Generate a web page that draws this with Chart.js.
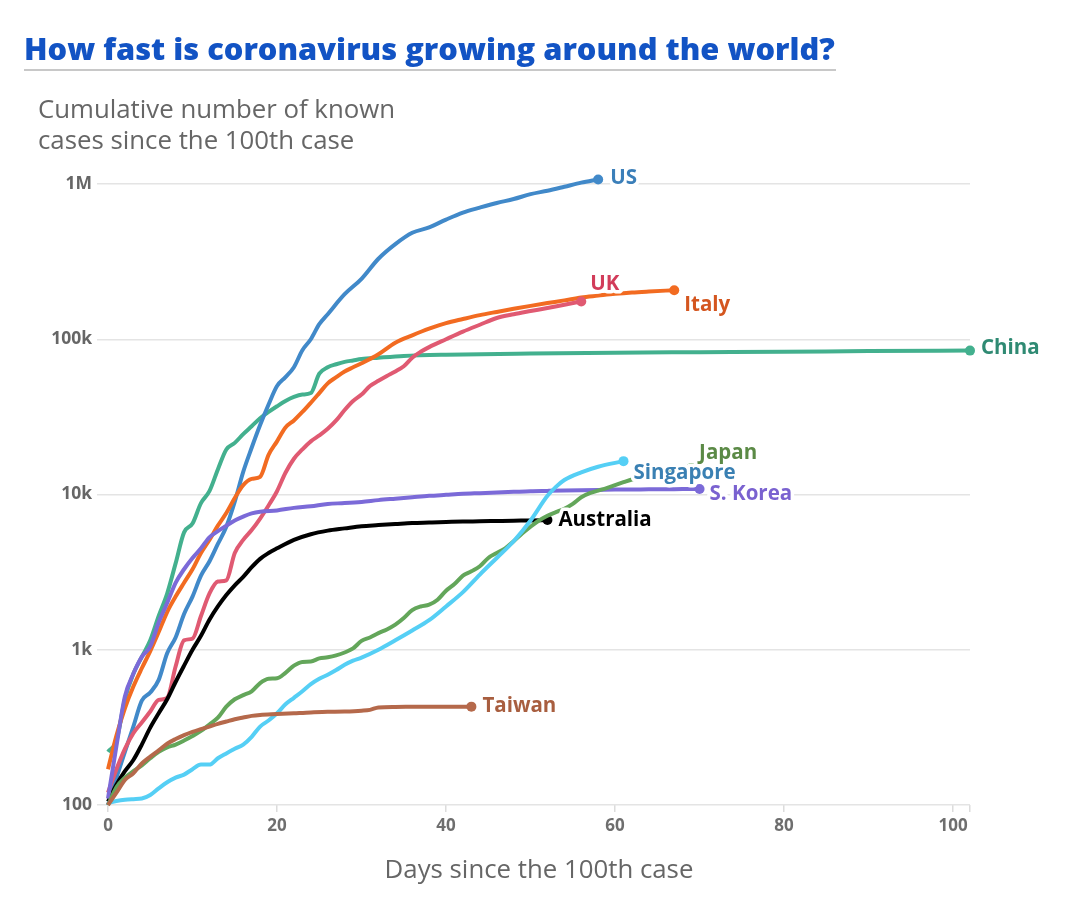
<!DOCTYPE html>
<html>
<head>
<meta charset="utf-8">
<script src="https://cdn.jsdelivr.net/npm/chart.js@4.4.1/dist/chart.umd.min.js"></script>
<style>
  body { margin: 0; background: #fff; }
  #wrap { position: relative; width: 1080px; height: 903px; }
  #chart { position: absolute; left: 0; top: 0; }
  .title {
    position: absolute; left: 24px; top: 29px; width: 812px;
    font: 800 30.8px "Open Sans", sans-serif; line-height: 39px; color: #1253c4;
    padding-bottom: 1px; border-bottom: 2px solid #c8c8c8; white-space: nowrap;
  }
  .subtitle {
    position: absolute; left: 38px; top: 93px;
    font: 400 25.8px "Open Sans", sans-serif; line-height: 31px; color: #666;
  }
</style>
</head>
<body>
<div id="wrap">
  <canvas id="chart" width="1080" height="903"></canvas>
  <div class="title">How fast is coronavirus growing around the world?</div>
  <div class="subtitle">Cumulative number of known<br>cases since the 100th case</div>
</div>
<script>
const yTicks      = [100, 1000, 10000, 100000, 1000000];
const yTickLabels = ['100', '1k', '10k', '100k', '1M'];
const xTicks      = [0, 20, 40, 60, 80, 100];
const xAxisEnd    = 102;

const taiwanDays  = [0,1,2,3,4,5,6,7,8,9,10,11,12,13,14,15,16,17,18,20,22,24,26,28,30,31,32,34,38,43];
const taiwanCases = [100,120,145,160,185,205,225,248,266,282,296,308,320,333,345,357,366,375,380,385,390,395,398,400,405,410,425,428,430,430];

const singDays  = [0,1,2,3,4,5,6,7,8,9,10,11,12,13,14,15,16,17,18,19,20,21,22,23,24,25,26,27,28,29,30,32,34,36,38,40,42,44,46,48,50,52,53,54,56,58,61];
const singCases = [103,106,108,109,110,116,128,140,150,157,170,182,182,200,215,230,245,275,320,350,390,445,490,540,600,650,690,740,800,850,890,1000,1150,1330,1550,1900,2350,3050,3900,5000,6800,9800,11200,12400,13900,15100,16400];

const japanDays  = [0,1,2,3,4,5,6,7,8,9,10,11,12,13,14,15,16,17,18,19,20,21,22,23,24,25,26,27,28,29,30,31,32,33,34,35,36,37,38,39,40,41,42,43,44,45,46,47,48,49,50,51,52,53,54,55,56,57,58,59,60,61,62,64,66,69];
const japanCases = [100,130,150,165,180,200,220,235,245,260,278,300,330,365,430,480,510,540,610,650,655,710,790,835,840,880,895,920,960,1020,1140,1200,1280,1350,1450,1600,1800,1900,1950,2100,2400,2650,3000,3200,3450,3900,4200,4500,5000,5600,6200,6800,7300,7700,8100,8700,9600,10200,10600,11000,11500,12000,12500,13000,13800,14800];

const koreaDays  = [0,1,2,3,4,5,6,7,8,9,10,11,12,13,14,15,16,17,18,20,22,24,26,28,30,32,34,36,38,40,42,44,46,48,50,52,54,56,58,60,62,64,66,68,70];
const koreaCases = [110,240,500,700,900,1050,1500,2000,2700,3300,3900,4500,5300,5800,6300,6800,7200,7550,7750,7900,8200,8400,8700,8800,8950,9200,9400,9600,9800,9950,10100,10200,10300,10400,10500,10550,10600,10650,10700,10750,10750,10800,10800,10850,10850];

const ausDays  = [0,1,2,3,4,5,6,7,8,9,10,11,12,13,14,15,16,17,18,19,20,22,24,26,28,30,32,34,36,38,40,42,44,46,48,50,52];
const ausCases = [105,135,165,195,245,315,390,480,620,790,1000,1230,1560,1900,2250,2600,2950,3400,3850,4200,4500,5100,5550,5850,6050,6250,6350,6450,6550,6600,6650,6700,6720,6750,6780,6800,6850];

const ukDays  = [0,1,2,3,4,5,6,7,8,9,10,11,12,13,14,15,16,17,18,19,20,21,22,23,24,25,26,27,28,29,30,31,32,33,34,35,36,37,38,40,42,44,46,48,50,52,54,56];
const ukCases = [120,170,230,290,340,400,475,490,780,1150,1180,1650,2300,2750,2800,4200,5100,5900,7000,8500,10500,13800,17000,19500,22000,24000,26500,30000,35000,40000,44000,50000,54000,58000,62000,67000,76000,83000,89000,100000,112000,124000,137000,145000,152000,159000,167000,175000];

const italyDays  = [0,1,2,3,4,5,6,7,8,9,10,11,12,13,14,15,16,17,18,19,20,21,22,23,24,25,26,27,28,29,30,32,34,36,38,40,42,44,46,48,50,52,54,56,58,60,62,64,67];
const italyCases = [170,280,420,580,760,980,1300,1750,2200,2700,3300,4200,5100,6300,7600,9500,11500,12600,13000,18000,22000,27000,30000,34000,39000,45000,52000,57000,62000,66000,70000,80000,95000,106000,117000,127000,135000,143000,150000,157000,164000,171000,178000,186000,191000,196000,200000,203000,207000];

const usDays  = [0,1,2,3,4,5,6,7,8,9,10,11,12,13,14,15,16,17,18,19,20,21,22,23,24,25,26,28,30,32,34,36,38,40,42,44,46,48,50,52,54,56,58];
const usCases = [100,150,220,320,470,530,640,950,1200,1700,2200,3000,3700,4800,6200,9000,14000,20000,28000,38000,50000,57000,66000,85000,100000,125000,145000,195000,245000,330000,410000,485000,525000,590000,655000,705000,755000,800000,860000,905000,960000,1020000,1070000];

const chinaDays  = [0,1,2,3,4,5,6,7,8,9,10,11,12,13,14,15,16,17,18,19,20,21,22,23,24,25,26,27,28,29,30,32,35,40,50,60,70,80,90,102];
const chinaCases = [220,260,480,700,900,1150,1650,2300,3600,5700,6500,8800,10500,14500,19500,21500,24500,27500,31000,34000,37000,40000,42500,44000,45000,60000,66000,69000,71500,73000,74500,76000,78000,79500,81000,82000,82500,83000,84000,84500];

const countries = ['Taiwan', 'Singapore', 'Japan', 'S. Korea', 'Australia', 'UK', 'Italy', 'US', 'China'];
const allDays   = [taiwanDays, singDays, japanDays, koreaDays, ausDays, ukDays, italyDays, usDays, chinaDays];
const allCases  = [taiwanCases, singCases, japanCases, koreaCases, ausCases, ukCases, italyCases, usCases, chinaCases];

// line colour, label colour, label offset from the end dot
const STYLE = {
  'Taiwan':    { line: '#b5694b', text: '#a85e3f', dx: 11, dy: 0 },
  'Singapore': { line: '#55cff5', text: '#3a80b3', dx: 10, dy: 12 },
  'Japan':     { line: '#63a65a', text: '#5b8a46', dx: 8,  dy: -15 },
  'S. Korea':  { line: '#7b6ad8', text: '#7a62d0', dx: 10, dy: 5 },
  'Australia': { line: '#000000', text: '#000000', dx: 11, dy: 0 },
  'UK':        { line: '#e05a72', text: '#d23c5a', dx: 9,  dy: -17 },
  'Italy':     { line: '#f26b21', text: '#d4561f', dx: 10, dy: 15 },
  'US':        { line: '#4189c9', text: '#3b7fb9', dx: 12, dy: -1 },
  'China':     { line: '#43b08e', text: '#2f8a73', dx: 11, dy: -2 },
};

const datasets = countries.map((name, i) => ({
  label: name,
  data: allDays[i].map((d, j) => ({ x: d, y: allCases[i][j] })),
  borderColor: STYLE[name].line,
  backgroundColor: STYLE[name].line,
  borderWidth: 4,
  cubicInterpolationMode: 'monotone',
  clip: false,
  pointRadius: (c) => (c.dataIndex === allDays[i].length - 1 ? 5 : 0),
  pointBorderWidth: 0,
}));

const endLabels = {
  id: 'endLabels',
  afterDatasetsDraw(chart) {
    const ctx = chart.ctx;
    ctx.save();
    ctx.font = '700 20.5px "Open Sans", sans-serif';
    ctx.textBaseline = 'middle';
    ctx.lineJoin = 'round';
    chart.data.datasets.forEach((ds, i) => {
      const pts = chart.getDatasetMeta(i).data;
      const last = pts[pts.length - 1];
      const st = STYLE[ds.label];
      const x = last.x + st.dx;
      const y = last.y + st.dy;
      ctx.strokeStyle = '#fff';
      ctx.lineWidth = 7;
      ctx.strokeText(ds.label, x, y);
      ctx.fillStyle = st.text;
      ctx.fillText(ds.label, x, y);
    });
    ctx.restore();
  },
};

new Chart(document.getElementById('chart'), {
  type: 'line',
  data: { datasets },
  plugins: [endLabels],
  options: {
    responsive: false,
    animation: false,
    events: [],
    layout: { padding: { left: 0, right: 110, top: 184, bottom: 15 } },
    plugins: { legend: { display: false }, tooltip: { enabled: false } },
    scales: {
      x: {
        type: 'linear',
        min: 0,
        max: xAxisEnd,
        afterFit: (s) => { s.height = 83; },
        afterBuildTicks: (s) => { s.ticks = xTicks.concat([xAxisEnd]).map((v) => ({ value: v })); },
        border: { display: false },
        grid: { drawOnChartArea: false, drawTicks: true, tickLength: 7, color: '#dcdcdc', lineWidth: 1.5 },
        ticks: {
          padding: 4,
          color: '#6e6e6e',
          font: { family: 'Open Sans', size: 17, weight: '700' },
          maxRotation: 0,
          autoSkip: false,
          callback: (v) => (xTicks.includes(v) ? String(v) : ''),
        },
        title: {
          display: true,
          text: 'Days since the 100th case',
          color: '#666',
          font: { family: 'Open Sans', size: 25.8, weight: '400' },
          padding: { top: 4, bottom: 2 },
        },
      },
      y: {
        type: 'logarithmic',
        min: 100,
        max: 1000000,
        afterFit: (s) => { s.width = 108; },
        afterBuildTicks: (s) => { s.ticks = yTicks.map((v) => ({ value: v })); },
        border: { display: false },
        grid: { color: '#e4e4e4', lineWidth: 1.5, tickLength: 11 },
        ticks: {
          padding: 5,
          color: '#666',
          font: { family: 'Open Sans', size: 17.5, weight: '700' },
          callback: (v) => yTickLabels[yTicks.indexOf(v)],
        },
      },
    },
  },
});
</script>
</body>
</html>
